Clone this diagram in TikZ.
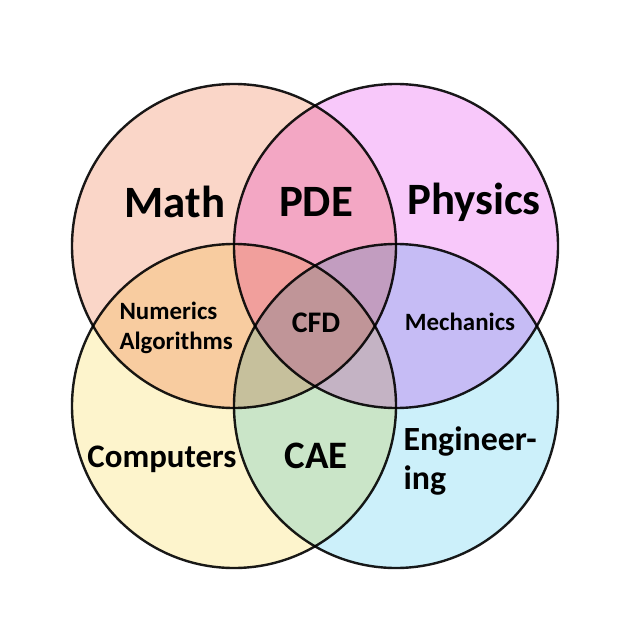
\documentclass[tikz,border=0pt]{standalone}
\usepackage{fontspec}
\setmainfont{Carlito}

\definecolor{mathfill}{RGB}{250,214,200}
\definecolor{physfill}{RGB}{248,200,250}
\definecolor{compfill}{RGB}{253,244,204}
\definecolor{engfill}{RGB}{204,240,250}
\definecolor{rim}{RGB}{26,26,26}

\begin{document}
\begin{tikzpicture}[x=1bp, y=-1bp,
  every node/.style={font=\bfseries},
  field/.style={circle, minimum size=324bp, inner sep=0pt, draw=rim, line width=2.4bp, blend mode=multiply},
  large/.style={font=\fontsize{45}{48}\selectfont\bfseries},
  medium/.style={font=\fontsize{34}{40}\selectfont\bfseries, align=left},
  small/.style={font=\fontsize{25}{30}\selectfont\bfseries, align=left}]
  \useasboundingbox[fill=white] (0,0) rectangle (636,636);

  % the four fields
  \node[field, fill=mathfill] (math) at (234,246) {};
  \node[field, fill=physfill] (phys) at (396,246) {};
  \node[field, fill=compfill] (comp) at (234,406) {};
  \node[field, fill=engfill]  (eng)  at (396,406) {};

  % labels
  \node[large] (mathlbl) at (175,202) {Math};
  \node[large] (pde) at (316,202) {PDE};
  \node[large] (physlbl) at (474,202) {Physics};
  \node[small, anchor=west] (numerics) at (116,328) {Numerics\\Algorithms};
  \node[font=\fontsize{30}{34}\selectfont\bfseries] (cfd) at (316,323) {CFD};
  \node[small] (mech) at (460,322) {Mechanics};
  \node[font=\fontsize{33}{36}\selectfont\bfseries] (complbl) at (162,459) {Computers};
  \node[font=\fontsize{39}{42}\selectfont\bfseries] (cae) at (316,456) {CAE};
  \node[medium, anchor=west] (englbl) at (400,461) {Engineer-\\ing};
\end{tikzpicture}
\end{document}
